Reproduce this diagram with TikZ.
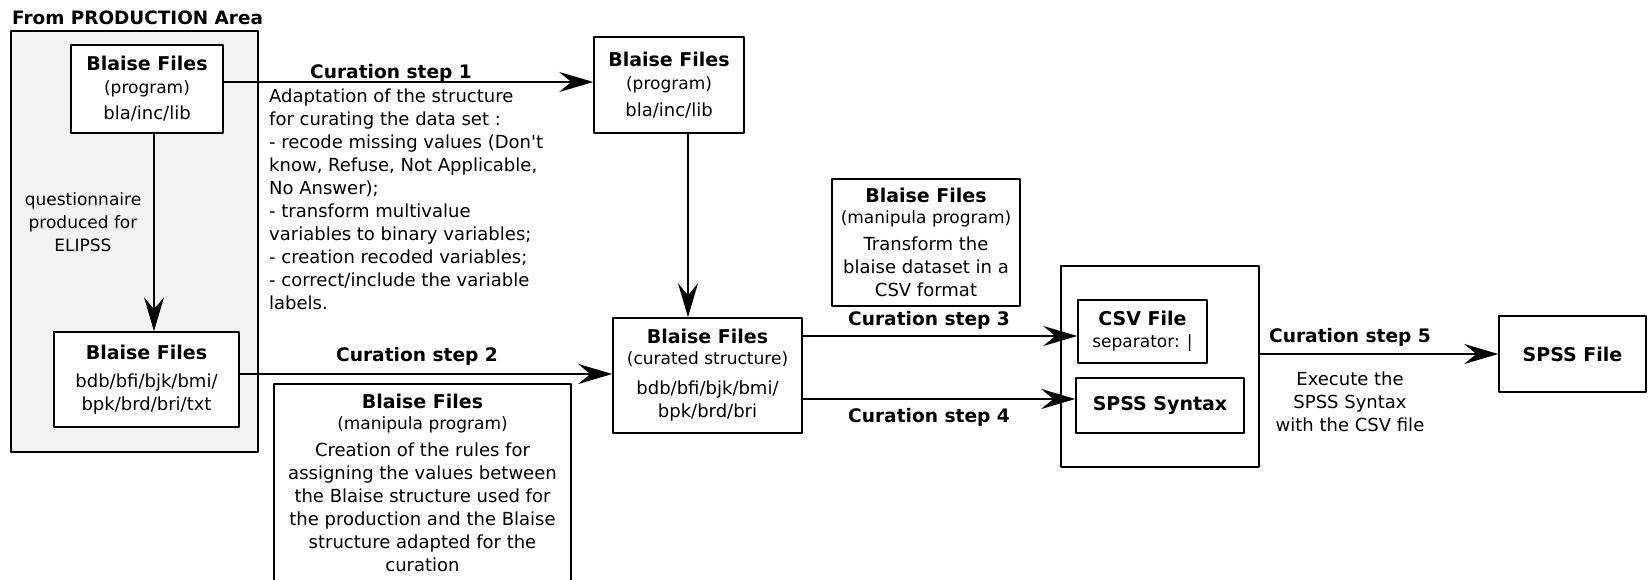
\documentclass[tikz,border=0pt]{standalone}
\usepackage{fontspec}
\setmainfont{DejaVu Sans}
\usetikzlibrary{arrows.meta}

\definecolor{areagray}{HTML}{F3F3F3}
\newcommand{\fsz}[2]{\fontsize{#1}{#2}\selectfont}
\newcommand{\ttl}{\bfseries\fsz{19}{23}}
\newcommand{\subt}{\fsz{17}{23}}

\begin{document}
\begin{tikzpicture}[x=1pt, y=-1pt, line join=round,
	box/.style={draw, line width=1.5pt, fill=white, align=center, inner sep=0pt, font=\fsz{18}{23}},
	flow/.style={-{Stealth[length=34pt, width=20pt, inset=12pt]}, line width=1.5pt},
	steplabel/.style={inner sep=0pt, font=\bfseries\fsz{18.6}{23}},
	note/.style={align=center, inner sep=0pt, font=\fsz{18}{23}}]
	\useasboundingbox (0,0) rectangle (1648,580);
	% production area
	\node[anchor=west, inner sep=0pt, font=\bfseries\fsz{18.4}{23}] (areatitle) at (12,18) {From PRODUCTION Area};
	\draw[line width=1.5pt, fill=areagray] (11,31) rectangle (258,452);
	\node[box, minimum width=152pt, minimum height=88pt] (prog) at (147,89) {{\ttl Blaise Files}\\{\subt (program)}\\[3pt]bla/inc/lib};
	\node[box, minimum width=185pt, minimum height=95pt] (prod) at (146.5,379.5) {{\ttl Blaise Files}\\[5pt]bdb/bfi/bjk/bmi/\\bpk/brd/bri/txt};
	\node[note, font=\fsz{17}{23}] (quest) at (83,222) {questionnaire\\produced for\\ELIPSS};
	\draw[flow] ([xshift=7pt]prog.south) -- ([xshift=7pt]prog.south |- prod.north);
	% curation
	\node[box, minimum width=150pt, minimum height=96pt] (copy) at (669,85) {{\ttl Blaise Files}\\{\subt (program)}\\[4pt]bla/inc/lib};
	\node[box, minimum width=189pt, minimum height=115pt] (cur) at (707.5,375.5) {{\ttl Blaise Files}\\[-2pt]{\subt (curated structure)}\\[7pt]bdb/bfi/bjk/bmi/\\bpk/brd/bri};
	\node[box, minimum width=297pt, minimum height=197pt] (rules) at (422.5,482.5) {{\ttl Blaise Files}\\[-2pt]{\subt (manipula program)}\\[4pt]Creation of the rules for\\assigning the values between\\the Blaise structure used for\\the production and the Blaise\\structure adapted for the\\curation};
	\node[box, minimum width=188pt, minimum height=127pt] (tocsv) at (926,242.5) {{\ttl Blaise Files}\\[-2pt]{\subt (manipula program)}\\[4pt]Transform the\\blaise dataset in a\\CSV format};
	\draw[flow] ([yshift=7pt]prog.east) -- ([yshift=7pt]prog.east -| copy.west);
	\node[steplabel] (lab1) at (391,73) {Curation step 1};
	\node[note, align=left, anchor=north west] (adapt) at (269,89) {Adaptation of the structure\\for curating the data set :\\- recode missing values (Don\textquotesingle t\\know, Refuse, Not Applicable,\\No Answer);\\- transform multivalue\\variables to binary variables;\\- creation recoded variables;\\- correct/include the variable\\labels.};
	\draw[flow] ([xshift=19pt]copy.south) -- ([xshift=19pt]copy.south |- cur.north);
	\draw[flow] ([yshift=5.5pt]prod.east) -- ([yshift=5.5pt]prod.east -| cur.west);
	\node[steplabel] (lab2) at (417,356) {Curation step 2};
	% output
	\node[box, minimum width=198pt, minimum height=201pt] (outbox) at (1160,366.5) {};
	\node[box, minimum width=129pt, minimum height=63pt] (csv) at (1142.5,331.5) {{\ttl CSV File}\\[-1pt]{\subt separator: |}};
	\node[box, minimum width=168pt, minimum height=55pt] (syntax) at (1160,405.5) {{\ttl SPSS Syntax}};
	\draw[flow] ([yshift=39.5pt]cur.east) -- ([yshift=39.5pt]cur.east -| csv.west);
	\draw[flow] ([yshift=-23.5pt]cur.east) -- ([yshift=-23.5pt]cur.east -| syntax.west);
	\node[steplabel] (lab3) at (929,320) {Curation step 3};
	\node[steplabel] (lab4) at (929,417) {Curation step 4};
	\node[box, minimum width=147pt, minimum height=76pt] (spss) at (1572.5,354) {{\ttl SPSS File}};
	\draw[flow] (outbox.east |- spss.west) -- (spss.west);
	\node[steplabel] (lab5) at (1350,337) {Curation step 5};
	\node[note] (exec) at (1350,402) {Execute the\\SPSS Syntax\\with the CSV file};
\end{tikzpicture}
\end{document}
